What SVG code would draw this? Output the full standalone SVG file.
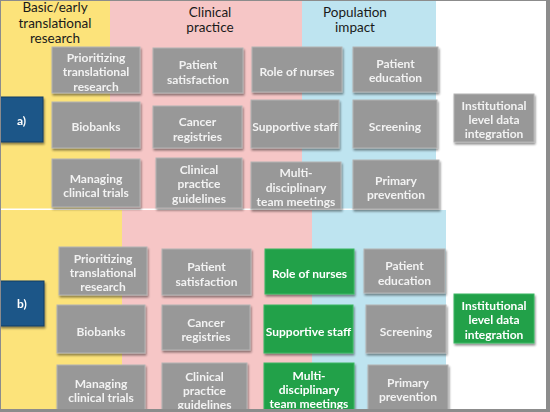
<svg xmlns="http://www.w3.org/2000/svg" width="550" height="412" viewBox="0 0 550 412">
<style>
.bx{fill:#989898;stroke:#b4b4b4;stroke-width:1}
.gr{fill:#22a14a;stroke:#3cb864;stroke-width:1}
.bl{fill:#1c5688;stroke:#123d62;stroke-width:1}
.t{font-family:Lato,"Liberation Sans",sans-serif;font-size:12px;font-weight:bold;fill:#f2f2f2;text-anchor:middle}
.tw{fill:#ffffff}
.h{font-family:Lato,"Liberation Sans",sans-serif;font-size:13.5px;fill:#1a1a1a;text-anchor:middle}
</style>
<defs>
<filter id="ds" x="-10%" y="-10%" width="130%" height="130%">
<feGaussianBlur in="SourceAlpha" stdDeviation="1"/>
<feOffset dx="1" dy="1.5" result="o"/>
<feComponentTransfer><feFuncA type="linear" slope="0.45"/></feComponentTransfer>
<feMerge><feMergeNode/><feMergeNode in="SourceGraphic"/></feMerge>
</filter>
</defs>
<rect x="0" y="0" width="550" height="412" fill="#ffffff"/>
<g id="bands">
<rect x="0" y="0" width="110" height="208.5" fill="#fce37a"/>
<rect x="110" y="0" width="192" height="208.5" fill="#f6c6c6"/>
<rect x="302" y="0" width="134" height="208.5" fill="#bee4f0"/>
<rect x="0" y="210" width="122" height="202" fill="#fce37a"/>
<rect x="122" y="210" width="190" height="202" fill="#f6c6c6"/>
<rect x="312" y="210" width="134" height="202" fill="#bee4f0"/>
</g>
<g id="headers">
<text class="h" x="55" y="12">Basic/early</text>
<text class="h" x="55" y="27.5">translational</text>
<text class="h" x="55" y="43">research</text>
<text class="h" x="210" y="17">Clinical</text>
<text class="h" x="210" y="32">practice</text>
<text class="h" x="355" y="17">Population</text>
<text class="h" x="355" y="32">impact</text>
</g>
<g id="connectors"></g>
<g filter="url(#ds)">
<g id="a-label"><rect class="bl" x="0" y="97" width="43" height="45"/><text class="t tw" x="21.5" y="124.5">a)</text></g>
<g id="a-prioritizing"><rect class="bx" x="52" y="47" width="88" height="46"/><text class="t" x="96" y="61.5">Prioritizing</text><text class="t" x="96" y="76">translational</text><text class="t" x="96" y="90.5">research</text></g>
<g id="a-satisfaction"><rect class="bx" x="153" y="48" width="90" height="45"/><text class="t" x="198" y="68.5">Patient</text><text class="t" x="198" y="83.5">satisfaction</text></g>
<g id="a-nurses"><rect class="bx" x="252" y="47" width="90" height="45"/><text class="t" x="297" y="75.5">Role of nurses</text></g>
<g id="a-education"><rect class="bx" x="353" y="47" width="85" height="45"/><text class="t" x="395.5" y="67.5">Patient</text><text class="t" x="395.5" y="81.5">education</text></g>
<g id="a-biobanks"><rect class="bx" x="52" y="102" width="88" height="46"/><text class="t" x="96" y="130.5">Biobanks</text></g>
<g id="a-registries"><rect class="bx" x="153" y="106" width="89" height="42"/><text class="t" x="197.5" y="125.5">Cancer</text><text class="t" x="197.5" y="140.5">registries</text></g>
<g id="a-staff"><rect class="bx" x="251" y="100" width="88" height="48"/><text class="t" x="295" y="130.5">Supportive staff</text></g>
<g id="a-screening"><rect class="bx" x="353" y="100" width="84" height="48"/><text class="t" x="395" y="130.5">Screening</text></g>
<g id="a-institutional"><rect class="bx" x="454" y="94" width="80" height="48"/><text class="t" x="494" y="110">Institutional</text><text class="t" x="494" y="124">level data</text><text class="t" x="494" y="138">integration</text></g>
<g id="a-trials"><rect class="bx" x="52" y="159" width="88" height="48"/><text class="t" x="96" y="182.5">Managing</text><text class="t" x="96" y="196.5">clinical trials</text></g>
<g id="a-guidelines"><rect class="bx" x="156" y="158" width="86" height="50"/><text class="t" x="199" y="173.5">Clinical</text><text class="t" x="199" y="188">practice</text><text class="t" x="199" y="202.5">guidelines</text></g>
<g id="a-meetings"><rect class="bx" x="251" y="162" width="90" height="47"/><text class="t" x="296" y="176.5">Multi-</text><text class="t" x="296" y="191.5">disciplinary</text><text class="t" x="296" y="206">team meetings</text></g>
<g id="a-prevention"><rect class="bx" x="353" y="160" width="86" height="49"/><text class="t" x="396" y="184.5">Primary</text><text class="t" x="396" y="199">prevention</text></g>

<g id="b-label"><rect class="bl" x="0" y="281" width="44" height="45"/><text class="t tw" x="22" y="308">b)</text></g>
<g id="b-prioritizing"><rect class="bx" x="59" y="247" width="88" height="48"/><text class="t" x="103" y="262.5">Prioritizing</text><text class="t" x="103" y="276.5">translational</text><text class="t" x="103" y="291">research</text></g>
<g id="b-satisfaction"><rect class="bx" x="162" y="249" width="89" height="46"/><text class="t" x="206.5" y="270.5">Patient</text><text class="t" x="206.5" y="285.5">satisfaction</text></g>
<g id="b-nurses"><rect class="gr" x="265" y="249" width="89" height="45"/><text class="t tw" x="309.5" y="277.5">Role of nurses</text></g>
<g id="b-education"><rect class="bx" x="364" y="249" width="81" height="44"/><text class="t" x="404.5" y="269.5">Patient</text><text class="t" x="404.5" y="284.5">education</text></g>
<g id="b-biobanks"><rect class="bx" x="57" y="305" width="88" height="48"/><text class="t" x="101" y="335.5">Biobanks</text></g>
<g id="b-registries"><rect class="bx" x="162" y="305" width="88" height="45"/><text class="t" x="206" y="326.5">Cancer</text><text class="t" x="206" y="340.5">registries</text></g>
<g id="b-staff"><rect class="gr" x="264" y="305" width="89" height="48"/><text class="t tw" x="308.5" y="335.5">Supportive staff</text></g>
<g id="b-screening"><rect class="bx" x="366" y="305" width="80" height="48"/><text class="t" x="406" y="335.5">Screening</text></g>
<g id="b-institutional"><rect class="gr" x="454" y="294" width="80" height="49"/><text class="t tw" x="494" y="309.5">Institutional</text><text class="t tw" x="494" y="324">level data</text><text class="t tw" x="494" y="338.5">integration</text></g>
<g id="b-trials"><rect class="bx" x="57" y="365" width="88" height="47"/><text class="t" x="101" y="387.5">Managing</text><text class="t" x="101" y="401.5">clinical trials</text></g>
<g id="b-guidelines"><rect class="bx" x="162" y="363" width="85" height="49"/><text class="t" x="204.5" y="380.5">Clinical</text><text class="t" x="204.5" y="394.5">practice</text><text class="t" x="204.5" y="408.5">guidelines</text></g>
<g id="b-meetings"><rect class="gr" x="264" y="363" width="90" height="49"/><text class="t tw" x="309" y="379.5">Multi-</text><text class="t tw" x="309" y="393.5">disciplinary</text><text class="t tw" x="309" y="408">team meetings</text></g>
<g id="b-prevention"><rect class="bx" x="368" y="365" width="80" height="47"/><text class="t" x="408" y="386.5">Primary</text><text class="t" x="408" y="400.5">prevention</text></g>
</g>
<g id="frame">
<rect x="0.5" y="0.5" width="546" height="409" fill="none" stroke="#8c8c8c" stroke-width="1"/>
<rect x="547" y="0" width="3" height="412" fill="#8c8c8c"/>
<rect x="0" y="409.5" width="550" height="2.5" fill="#8c8c8c"/>
</g>
</svg>
